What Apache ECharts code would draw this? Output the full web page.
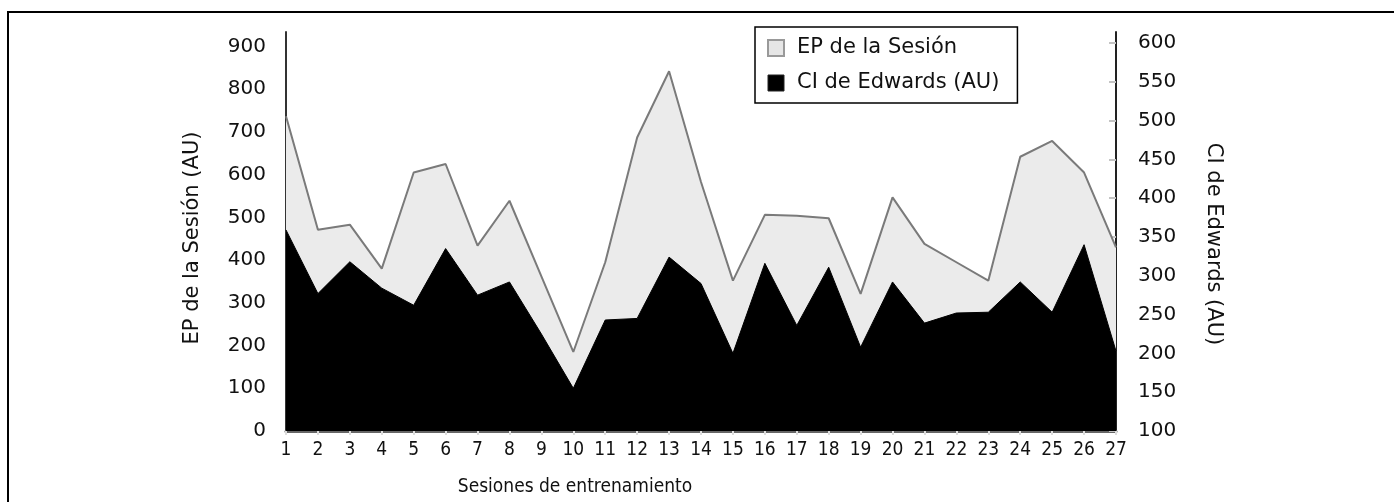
<!DOCTYPE html>
<html>
<head>
<meta charset="utf-8">
<script src="https://cdn.jsdelivr.net/npm/echarts@6/dist/echarts.min.js"></script>
<style>
html,body{margin:0;padding:0;background:#fff;}
#chart{width:1394px;height:502px;}
</style>
</head>
<body>
<div id="chart"></div>
<script>
const categories = ['1','2','3','4','5','6','7','8','9','10','11','12','13','14','15','16','17','18','19','20','21','22','23','24','25','26','27'];
const epSesion = [737, 471, 483, 380, 605, 625, 434, 539, 362, 185, 395, 687, 842, 583, 352, 506, 504, 498, 321, 547, 438, 395, 352, 642, 679, 605, 430];
const ciEdwards = [359, 277, 318, 284, 262, 335, 275, 292, 225, 155, 243, 245, 324, 290, 200, 316, 236, 311, 208, 292, 239, 252, 253, 292, 253, 340, 203];
const seriesNames = ['EP de la Sesión', 'CI de Edwards (AU)'];
const leftAxisTitle = 'EP de la Sesión (AU)';
const rightAxisTitle = 'CI de Edwards (AU)';
const xAxisTitle = 'Sesiones de entrenamiento';

const FONT = "'DejaVu Sans', Verdana, sans-serif";
const NARROW = "'DejaVu Sans Condensed', 'Liberation Sans Narrow', sans-serif";

const chart = echarts.init(document.getElementById('chart'));
chart.setOption({
  animation: false,
  backgroundColor: '#fff',
  grid: { left: 286, right: 278, top: 32, bottom: 71 },
  legend: {
    orient: 'vertical',
    left: 755,
    top: 27,
    padding: [10, 18, 9, 12],
    itemGap: 13,
    itemWidth: 16,
    itemHeight: 16,
    icon: 'rect',
    borderColor: '#000',
    borderWidth: 1.5,
    backgroundColor: '#fff',
    textStyle: { fontFamily: FONT, fontSize: 21, color: '#111', lineHeight: 22, padding: [0, 0, 0, 8] },
    data: [
      { name: seriesNames[0], itemStyle: { color: '#e6e6e6', borderColor: '#999', borderWidth: 2 } },
      { name: seriesNames[1], itemStyle: { color: '#000', borderColor: '#222', borderWidth: 1 } }
    ]
  },
  xAxis: {
    type: 'category',
    data: categories,
    boundaryGap: false,
    axisLine: { show: true, lineStyle: { color: '#666', width: 3 } },
    axisTick: { show: true, alignWithLabel: true, length: 4, lineStyle: { color: '#ddd', width: 2 } },
    axisLabel: { fontFamily: NARROW, fontSize: 19, color: '#111', margin: 10, interval: 0 },
    splitLine: { show: false }
  },
  yAxis: [
    {
      type: 'value',
      position: 'left',
      min: 0,
      max: 934,
      interval: 100,
      axisLine: { show: true, lineStyle: { color: '#333', width: 2 } },
      axisTick: { show: false },
      axisLabel: { fontFamily: FONT, fontSize: 20, color: '#111', margin: 20, showMaxLabel: false },
      splitLine: { show: false }
    },
    {
      type: 'value',
      position: 'right',
      min: 100,
      max: 614,
      interval: 50,
      axisLine: { show: true, lineStyle: { color: '#222', width: 2 } },
      axisTick: { show: true, inside: true, length: 7, lineStyle: { color: '#c4c4c4', width: 2 } },
      axisLabel: { fontFamily: FONT, fontSize: 20, color: '#111', margin: 22, showMaxLabel: false },
      splitLine: { show: false }
    }
  ],
  series: [
    {
      name: seriesNames[0],
      type: 'line',
      yAxisIndex: 0,
      data: epSesion,
      symbol: 'none',
      z: 2,
      lineStyle: { color: '#7a7a7a', width: 2 },
      itemStyle: { color: '#e6e6e6' },
      areaStyle: { color: '#ebebeb', opacity: 1 }
    },
    {
      name: seriesNames[1],
      type: 'line',
      yAxisIndex: 1,
      data: ciEdwards,
      symbol: 'none',
      z: 3,
      lineStyle: { color: '#000', width: 1 },
      itemStyle: { color: '#000' },
      areaStyle: { color: '#000', opacity: 1 }
    }
  ],
  graphic: [
    {
      type: 'rect',
      shape: { x: 8, y: 12, width: 1420, height: 520 },
      style: { fill: 'none', stroke: '#000', lineWidth: 2 },
      silent: true
    },
    {
      type: 'text',
      x: 575, y: 487,
      style: { text: xAxisTitle, fontFamily: NARROW, fontSize: 19, fill: '#111', align: 'center', verticalAlign: 'middle' }
    },
    {
      type: 'text',
      x: 193, y: 238,
      rotation: Math.PI / 2,
      style: { text: leftAxisTitle, fontFamily: FONT, fontSize: 21, fill: '#111', align: 'center', verticalAlign: 'middle' }
    },
    {
      type: 'text',
      x: 1213, y: 244,
      rotation: -Math.PI / 2,
      style: { text: rightAxisTitle, fontFamily: FONT, fontSize: 21, fill: '#111', align: 'center', verticalAlign: 'middle' }
    }
  ]
});
</script>
</body>
</html>
